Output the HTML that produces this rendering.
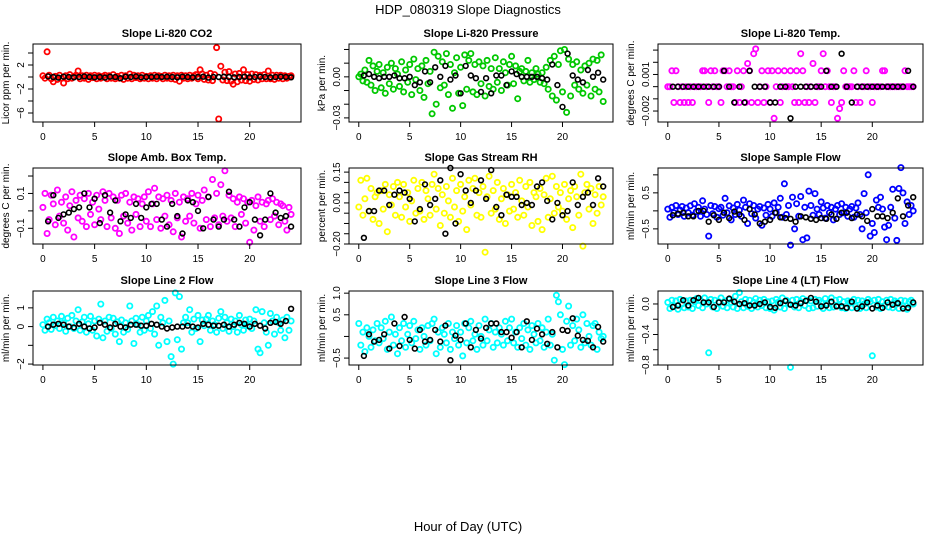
<!DOCTYPE html>
<html><head><meta charset="utf-8"><style>
html,body{margin:0;padding:0;background:#fff;}
svg{display:block;font-family:"Liberation Sans",Arial,sans-serif;}
</style></head><body>
<svg id="chart" width="936" height="540" viewBox="0 0 936 540" xmlns="http://www.w3.org/2000/svg">
<text x="468" y="14" text-anchor="middle" font-size="13">HDP_080319  Slope Diagnostics</text>
<text x="468" y="531" text-anchor="middle" font-size="13">Hour of Day (UTC)</text>
</svg>
<script>
// ---- data (colored series sampled every 0.2 h from 0; black series every 0.5 h from 0.5) ----
const xTicks = [0, 5, 10, 15, 20];
const co2Color = [0.2,-0.2,4.2,0.3,-0.3,-0.8,0.1,-0.4,0.3,-0.2, -1.0,0.2,-0.3,0.4,-0.2,0.1,0.3,1.0,-0.3,0.2, -0.2,0.3,-0.4,0.2,-0.1,0.3,-0.3,0.2,-0.2,0.1, 0.3,-0.3,0.2,-0.2,0.4,-0.3,0.1,-0.2,0.3,-0.4, 0.2,-0.2,0.5,-0.3,0.3,-0.1,0.2,-0.3,0.3,-0.2, 0.1,-0.3,0.2,-0.2,0.3,-0.3,0.2,0.1,-0.3,0.3, -0.2,0.2,-0.3,0.3,-0.4,0.2,-0.7,0.3,-0.2,0.2, -0.3,0.3,-0.2,0.2,0.4,-0.3,1.2,0.5,-0.4,0.3, -0.5,0.6,-0.6,0.4,4.9,-7.0,1.8,-0.5,0.8,-0.6, 0.9,-0.7,-1.2,0.5,-0.8,0.6,-0.5,1.2,-0.6,0.4, -0.7,0.5,-0.4,0.4,-0.5,0.3,-0.3,0.4,-0.3,1.0, -0.3,0.3,-0.4,0.3,-0.2,0.3,-0.3,0.2,-0.2,0.1, 0.2];
const co2Black = [0.1,0,-0.1,0.05,0,-0.05,0,0.1,0,-0.05,0,-0.1,0.05,0,-0.2,0.05,0,0.1,-0.05,0,0,0.05,0,0.05,0,-0.05,0.05,0,-0.05,0,0.05,-0.1,0,0,0.05,0,-0.05,0,0.05,-0.05,0,0.05,0,-0.05,0,0.05,0,-0.05];
const presColor = [0,.002,-.003,.005,-.004,.012,-.006,.008,-.01,.004, .009,-.008,.003,-.012,.007,-.005,.01,-.009,.006,.002, -.007,.011,-.011,.005,-.004,.009,-.013,.013,-.002,.006, -.01,.008,-.015,.012,-.005,.004,-.027,.018,-.02,.015, -.008,.011,-.006,.017,-.013,.009,-.023,.003,.014,-.012, .007,-.021,.016,-.009,.012,.017,-.011,.009,-.013,.011, -.005,.008,-.014,.012,-.007,.006,-.009,.014,-.004,.006, -.01,.011,.003,-.006,.009,.015,-.005,.008,-.016,.004, .006,-.003,.004,.012,-.004,.003,-.002,.006,.002,-.004, .003,-.005,.007,-.009,.012,-.014,.015,-.017,.009,.019, -.011,.02,-.026,.013,-.014,.009,-.006,.011,-.009,.005, -.012,.008,-.006,.01,-.014,.013,-.009,.012,-.011,.016, -.018];
const presBlack = [.001,.002,0,-.001,0,0,.001,-.001,-.001,0,-.006,-.004,.004,-.004,.007,0,.008,-.002,.001,-.012,.008,.001,-.001,-.011,-.001,-.012,.001,.001,-.006,.004,.002,0,0,0,0,-.001,-.002,.009,-.006,-.022,.017,.001,-.002,-.004,.005,0,.003,-.002];
const tempColor = [0,0,.0013,-.0013,.0013,0,-.0013,0,-.0013,0, -.0013,0,-.0013,0,0,0,0,.0013,.0013,0, -.0013,.0013,0,.0013,0,0,-.0013,.0013,.0013,0, .0013,0,0,-.0013,.0013,-.0013,0,.0013,-.0013,.0019, .0013,-.0013,.0027,.0031,-.0013,0,.0013,-.0013,0,.0013, -.0013,.0013,-.0026,0,.0013,-.0013,0,.0013,0,0, .0013,0,-.0013,.0013,-.0013,.0027,.0013,-.0013,0,-.0013, 0,.0019,-.0013,0,0,.0013,.0027,0,.0013,0, -.0013,0,0,-.0026,-.0018,-.0013,.0013,0,0,0, 0,.0013,-.0013,0,-.0013,0,0,.0013,0,0, -.0013,0,0,0,0,.0013,.0013,0,0,0, 0,0,0,0,0,0,.0013,0,0,0, 0];
const tempBlack = [0,0,0,0,0,0,0,0,0,0,.0013,0,-.0013,0,-.0013,.0013,0,0,0,-.0013,-.0013,0,0,-.0026,0,0,0,0,0,0,.0013,0,0,.0027,0,-.0013,0,0,0,0,0,0,0,0,0,0,.0013,0];
const ambColor = [0.02,0.10,-0.13,-0.05,0.09,0.04,-0.08,0.12,-0.03,0.05, -0.07,0.08,-0.11,0.03,0.11,-0.15,0.06,-0.04,0.09,-0.06, 0.07,-0.09,0.10,-0.02,0.05,-0.08,0.09,0.01,-0.05,0.11, 0.06,-0.09,0.10,-0.04,0.08,-0.10,0.06,-0.13,0.09,-0.03, 0.10,-0.07,0.05,-0.11,0.08,-0.02,0.07,-0.09,0.04,0.08, -0.06,0.11,-0.09,0.04,0.13,-0.05,0.08,-0.10,0.07,-0.03, 0.09,-0.08,0.06,-0.12,0.10,-0.04,0.05,-0.15,0.08,-0.06, 0.07,-0.03,0.10,-0.07,0.04,0.09,-0.10,0.06,0.12,-0.05, 0.08,-0.09,0.18,-0.04,0.10,-0.08,0.15,-0.03,0.23,-0.06, 0.09,-0.04,0.07,-0.09,0.05,0.08,-0.02,0.07,-0.07,0.05, -0.18,0.06,-0.11,0.03,0.08,-0.06,0.05,-0.09,0.04,0.06, -0.05,0.07,-0.03,0.05,-0.08,0.04,0.03,-0.06,-0.11,0.02, -0.02];
const ambBlack = [-0.06,0.09,-0.04,-0.02,-0.01,0.01,0.02,0.10,0.02,0.07,-0.07,0.09,-0.01,0.06,-0.06,-0.02,-0.04,0.04,-0.04,0.02,0.04,0.04,-0.05,-0.09,0.04,-0.03,-0.13,0.06,0.05,0.00,-0.10,0.08,-0.05,-0.09,-0.05,0.11,-0.05,-0.09,0.02,0.05,-0.05,-0.14,-0.05,0.10,-0.01,-0.04,-0.03,-0.09];
const rhColor = [-0.02,0.11,-0.06,0.02,0.12,-0.04,0.07,-0.08,0.03,0.05, -0.10,0.06,-0.03,0.09,-0.14,0.04,-0.01,0.08,-0.06,0.10, 0.03,-0.07,0.09,-0.02,0.05,-0.09,0.01,0.11,-0.05,0.07, -0.04,0.10,-0.08,0.06,0.02,-0.06,0.09,0.14,-0.03,0.07, -0.11,0.04,-0.05,0.08,0.01,-0.07,0.12,-0.02,0.06,-0.09, 0.09,-0.04,0.03,-0.13,0.11,-0.01,0.07,0.12,-0.06,0.05, -0.07,0.08,-0.24,0.03,0.13,-0.05,0.06,-0.03,0.10,-0.08, 0.02,0.07,-0.10,0.04,-0.04,0.09,-0.03,0.05,-0.07,0.11, 0.01,-0.06,0.08,-0.02,0.10,-0.11,0.05,0.03,-0.09,0.07, -0.13,0.04,0.12,-0.07,0.02,0.13,-0.05,0.08,-0.02,0.05, -0.04,0.09,-0.08,0.02,0.06,-0.12,0.08,0.03,-0.06,0.14, -0.21,0.05,0.09,-0.03,0.07,-0.10,0.04,-0.05,0.08,-0.01, 0.03];
const rhBlack = [-0.17,-0.04,-0.04,0.06,0.06,-0.01,0.04,0.06,0.05,0.02,-0.09,-0.03,0.09,-0.01,0.02,0.11,-0.15,0.17,-0.10,0.14,0.06,0.00,0.06,0.11,0.02,0.16,-0.02,-0.06,0.04,0.03,0.03,-0.01,0.00,-0.01,0.08,0.10,0.01,-0.08,0.00,-0.06,-0.04,0.10,-0.01,0.03,0.05,-0.01,0.12,0.08];
const flowColor = [0.05,-0.18,0.1,-0.05,0.15,-0.1,0.02,0.12,-0.15,0.08, -0.05,0.14,-0.12,0.2,-0.02,0.1,-0.15,0.28,0.05,-0.1, -0.7,0.15,-0.08,0.12,-0.18,0.06,0.1,-0.12,0.35,-0.05, 0.14,-0.25,0.08,-0.1,0.18,0.02,-0.15,0.3,0.1,-0.35, 0.2,-0.08,0.15,-0.2,0.05,0.12,-0.4,0.08,-0.12,0.18, 0.05,-0.15,0.22,-0.05,0.1,0.35,-0.18,0.75,-0.1,0.15, -0.95,0.38,-0.5,0.2,-0.15,0.4,-0.8,0.1,-0.75,0.55, 0.15,-0.12,0.48,0.05,-0.1,0.25,0.08,-0.2,0.15,-0.05, 0.1,-0.25,0.05,0.15,-0.1,0.2,-0.05,0.1,-0.15,0.05, 0.12,-0.18,0.08,0.22,-0.1,-0.5,0.48,-0.05,1.0,-0.7, -0.35,-0.6,0.3,0.1,0.38,0.05,-0.45,-0.8,-0.4,0.1, 0.6,-0.2,-0.82,0.62,1.2,0.5,-0.35,0.25,-0.1,0.15, 0.0];
const flowBlack = [-0.12,-0.08,-0.05,-0.15,-0.15,0.0,0.0,-0.3,-0.12,-0.25,-0.05,-0.2,-0.02,-0.1,-0.25,0.05,-0.1,-0.35,-0.3,-0.25,-0.05,-0.18,-0.2,-0.22,-0.3,-0.15,-0.18,-0.22,-0.25,-0.2,-0.22,-0.1,-0.22,-0.05,-0.05,-0.2,-0.1,-0.15,-0.28,0.05,-0.15,-0.15,-0.2,-0.05,0.35,-0.15,0.15,0.38];
const line2Color = [0.1,-0.2,0.4,0.2,-0.15,0.5,0.05,0.3,-0.1,0.55, 0.2,-0.25,0.45,0.0,0.6,-0.1,0.3,0.9,-0.2,0.25, 0.5,-0.3,0.15,0.55,-0.2,0.3,-0.5,0.4,1.2,-0.6, 0.3,-0.25,0.5,-0.1,0.45,-0.4,0.25,-0.8,0.35,-0.3, 0.2,-0.15,1.1,0.3,-0.9,0.45,0.1,-0.3,0.5,-0.2, 0.3,0.6,-0.1,0.8,-0.4,1.1,-1.0,0.5,0.2,1.4, -0.8,0.3,-1.6,-2.0,1.8,-0.7,1.6,-1.2,0.2,0.5, 0.2,0.9,-0.3,0.4,-0.1,0.6,-0.8,0.35,0.05,0.4, 0.6,-0.2,0.3,0.1,-0.3,0.45,0.8,-0.1,0.5,0.2, -0.25,0.4,0.0,0.3,-0.3,0.6,0.1,-0.2,0.35,0.05, 0.4,-0.1,0.3,0.9,-1.2,-1.4,0.8,0.2,-0.3,-1.0, 0.7,0.3,-0.4,0.5,0.2,-0.2,0.35,-0.6,0.5,-0.2, 0.3];
const line2Black = [0.0,0.1,0.15,0.1,0.0,-0.05,0.15,0.0,-0.1,-0.05,0.2,0.1,-0.05,0.15,0.0,-0.05,0.1,0.1,0.05,0.05,0.15,0.1,0.0,-0.1,-0.05,0.0,0.0,0.05,0.0,-0.05,0.15,0.1,0.05,0.05,0.1,0.0,0.1,0.2,0.15,0.0,0.15,0.05,-0.1,0.2,0.25,0.15,0.3,0.95];
const line3Color = [0.3,-0.2,0.1,-0.35,0.2,0.0,-0.25,0.15,-0.1,0.3, -0.15,0.2,-0.05,0.35,-0.3,0.1,0.45,-0.2,0.05,-0.4, 0.2,-0.1,0.3,-0.25,0.05,0.25,-0.15,0.35,-0.05,0.15, -0.3,0.2,0.0,-0.2,0.25,-0.1,0.3,0.4,-0.4,0.1, -0.25,0.2,0.05,-0.15,0.3,-0.3,0.1,-0.05,0.25,-0.2, 0.1,-0.45,0.3,-0.15,0.2,0.35,-0.1,0.05,-0.3,0.25, 0.0,-0.2,0.4,-0.1,0.15,0.3,-0.25,0.1,-0.15,0.2, 0.05,-0.2,0.35,-0.1,0.2,0.4,-0.15,0.1,-0.25,0.2, -0.05,0.3,-0.2,0.15,-0.3,0.25,0.05,-0.15,0.3,-0.1, 0.2,-0.25,0.1,0.4,-0.2,0.05,-0.55,0.95,0.8,0.5, -0.3,-0.65,0.35,0.7,-0.2,0.25,-0.1,0.4,0.15,-0.25, 0.5,-0.15,0.3,0.0,-0.2,0.25,0.3,-0.3,0.1,-0.05, 0.0];
const line3Black = [-0.45,0.05,-0.12,-0.08,0.05,-0.28,0.3,-0.22,0.45,-0.08,-0.28,0.15,-0.12,-0.08,0.15,-0.12,0.25,-0.55,0.02,-0.08,0.3,-0.25,0.15,-0.05,0.2,0.3,0.3,0.1,0.1,-0.03,0.1,-0.25,0.35,-0.08,0.18,0.05,-0.17,0.1,-0.25,0.15,0.13,0.42,0.02,-0.08,-0.1,-0.25,0.22,-0.12];
const line4Color = [0.02,-0.06,0.05,-0.03,0.04,-0.07,0.06,0.0,-0.05,0.04, -0.04,0.05,-0.06,0.03,0.07,-0.02,0.05,-0.05,0.08,0.0, -0.64,0.06,-0.04,0.05,-0.06,0.03,0.08,-0.03,0.04,-0.05, 0.06,0.02,-0.04,0.1,-0.06,0.15,0.03,-0.05,0.06,-0.03, 0.05,-0.06,0.02,0.07,-0.04,0.05,-0.02,0.06,-0.05,0.03, -0.06,0.04,-0.08,0.06,0.02,-0.04,0.08,-0.06,0.05,0.0, -0.83,0.05,-0.04,0.06,-0.05,0.03,0.07,-0.02,0.05,-0.06, 0.04,-0.05,0.06,-0.03,0.05,0.02,-0.06,0.07,0.0,-0.05, 0.08,-0.04,0.05,-0.02,0.06,-0.05,0.03,-0.06,0.04,0.02, -0.05,0.06,-0.03,0.05,-0.06,0.04,0.0,-0.05,0.06,0.03, -0.68,0.05,-0.04,0.06,-0.06,0.03,-0.02,0.05,-0.04,0.06, -0.05,0.04,0.02,-0.06,0.05,-0.03,0.04,-0.07,0.03,0.05, 0.0];
const line4Black = [-0.04,-0.02,0.05,-0.02,0.05,0.08,0.02,0.02,-0.04,0.02,0.02,0.07,0.03,0.0,0.01,-0.02,-0.02,0.0,0.02,-0.04,-0.05,0.01,0.04,-0.01,-0.02,0.01,0.04,0.08,0.03,-0.03,-0.02,0.03,-0.03,-0.03,-0.05,0.03,-0.06,-0.03,0.02,-0.06,-0.02,-0.05,0.02,-0.01,0.01,-0.06,-0.05,0.02];

const panels = [
 {name:'co2', title:'Slope Li-820 CO2', ylab:'Licor ppm per min.', col:0,row:0, ymin:-7.5,ymax:5.5, ticks:[4,2,0,-2,-4,-6], labels:['2','-2','-6'], color:'#ff0000', c:co2Color, k:co2Black},
 {name:'pressure', title:'Slope Li-820 Pressure', ylab:'kPa per min.', col:1,row:0, ymin:-0.033,ymax:0.024, ticks:[0.02,0.01,0,-0.01,-0.02,-0.03], labels:['0.00','-0.03'], color:'#00c800', c:presColor, k:presBlack},
 {name:'temp', title:'Slope Li-820 Temp.', ylab:'degrees C per min.', col:2,row:0, ymin:-0.0029,ymax:0.0035, ticks:[0.003,0.002,0.001,0,-0.001,-0.002], labels:['0.001','-0.002'], color:'#ff00ff', c:tempColor, k:tempBlack},
 {name:'amb-box-temp', title:'Slope Amb. Box Temp.', ylab:'degrees C per min.', col:0,row:1, ymin:-0.19,ymax:0.246, ticks:[0.2,0.1,0,-0.1], labels:['0.1','-0.1'], color:'#ff00ff', c:ambColor, k:ambBlack},
 {name:'gas-rh', title:'Slope Gas Stream RH', ylab:'percent per min.', col:1,row:1, ymin:-0.20,ymax:0.17, ticks:[0.15,0.1,0.05,0,-0.05,-0.1,-0.15,-0.2], labels:['0.15','0.00','-0.20'], color:'#ffff00', c:rhColor, k:rhBlack},
 {name:'sample-flow', title:'Slope Sample Flow', ylab:'ml/min per min.', col:2,row:1, ymin:-0.92,ymax:1.19, ticks:[1,0.5,0,-0.5], labels:['0.5','-0.5'], color:'#0000ff', c:flowColor, k:flowBlack},
 {name:'line2-flow', title:'Slope Line 2 Flow', ylab:'ml/min per min.', col:0,row:2, ymin:-2.05,ymax:1.9, ticks:[1,0,-1,-2], labels:['1','0','-2'], color:'#00ffff', c:line2Color, k:line2Black},
 {name:'line3-flow', title:'Slope Line 3 Flow', ylab:'ml/min per min.', col:1,row:2, ymin:-0.66,ymax:1.05, ticks:[1,0.5,0,-0.5], labels:['1.0','0.5','-0.5'], color:'#00ffff', c:line3Color, k:line3Black},
 {name:'line4-flow', title:'Slope Line 4 (LT) Flow', ylab:'ml/min per min.', col:2,row:2, ymin:-0.8,ymax:0.17, ticks:[0,-0.2,-0.4,-0.6,-0.8], labels:['0.0','-0.4','-0.8'], color:'#00ffff', c:line4Color, k:line4Black}
];
const colX = [[33,301],[349,613],[658,923]];
const rowY = [[44,122],[168,244],[291,365]];
const NS='http://www.w3.org/2000/svg';
const svg=document.getElementById('chart');
function mk(tag,attrs,parent){const e=document.createElementNS(NS,tag);for(const a in attrs)e.setAttribute(a,attrs[a]);(parent||svg).appendChild(e);return e;}
function fmt(v,labs){for(const l of labs){if(Math.abs(parseFloat(l)-v)<1e-9)return l;}return null;}
panels.forEach(p=>{
  const [x0,x1]=colX[p.col],[y0,y1]=rowY[p.row];
  const xs=v=>x0+(v+0.96)/25.92*(x1-x0);
  const ys=v=>y1-(v-p.ymin)/(p.ymax-p.ymin)*(y1-y0);
  const g=mk('g',{});
  
  
  const t=mk('text',{x:(x0+x1)/2,y:y0-7,'text-anchor':'middle','font-size':'11','font-weight':'bold'},g);
  t.textContent=p.title;
  
  
  const yl=mk('text',{x:0,y:0,'text-anchor':'middle','font-size':'10',transform:`translate(${x0-24},${(y0+y1)/2}) rotate(-90)`},g);
  yl.textContent=p.ylab;
  
  
  const pg=mk('g',{fill:'none','stroke-width':'1.8'},g);
  
  
  p.c.forEach((v,i)=>{const h=i*0.2;const c=mk('circle',{cx:xs(h).toFixed(1),cy:ys(v).toFixed(1),r:2.6,stroke:p.color},pg);
    
    });
  const kg=mk('g',{fill:'none','stroke-width':'1.6',stroke:'#000'},g);
  
  
  p.k.forEach((v,i)=>{const h=(i+1)*0.5;const c=mk('circle',{cx:xs(h).toFixed(1),cy:ys(v).toFixed(1),r:2.4},kg);
    
    });
  const box=mk('rect',{x:x0,y:y0,width:x1-x0,height:y1-y0,fill:'none',stroke:'#000','stroke-width':'1'},g);
  
  
  xTicks.forEach(v=>{const X=xs(v);mk('line',{x1:X,x2:X,y1:y1,y2:y1+5,stroke:'#000'},g);
    const l=mk('text',{x:X,y:y1+18,'text-anchor':'middle','font-size':'10'},g);l.textContent=v;
    
    });
  p.ticks.forEach(v=>{const Y=ys(v);mk('line',{x1:x0-5,x2:x0,y1:Y,y2:Y,stroke:'#000'},g);
    const s=fmt(v,p.labels);
    if(s!==null){const l=mk('text',{x:0,y:0,'text-anchor':'middle','font-size':'10',transform:`translate(${x0-9},${Y}) rotate(-90)`},g);l.textContent=s.replace('-','\u2212');
      
      }});
});
</script>
</body></html>
